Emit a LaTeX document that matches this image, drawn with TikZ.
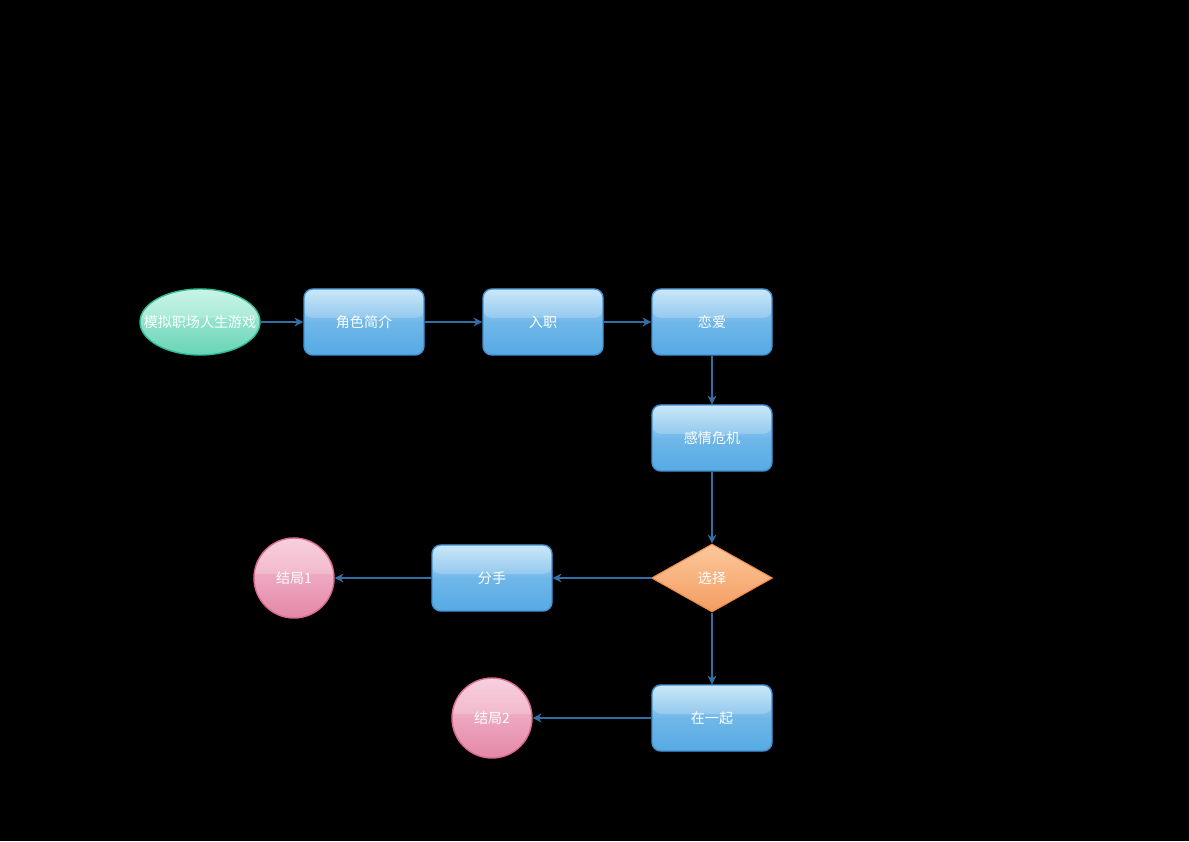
\documentclass[tikz,border=0pt]{standalone}
\usepackage{fontspec}
\setmainfont{Noto Sans CJK SC}
\usepackage{tikz}
\usetikzlibrary{shapes,arrows.meta,positioning,calc,shapes.geometric}
\definecolor{flowblue}{RGB}{86, 170, 228}
\definecolor{flowbluetop}{RGB}{190, 226, 248}
\definecolor{flowblueborder}{RGB}{66, 146, 212}
\definecolor{flowgreen}{RGB}{104, 212, 182}
\definecolor{flowgreentop}{RGB}{186, 242, 224}
\definecolor{flowgreenborder}{RGB}{48, 188, 150}
\definecolor{floworange}{RGB}{244, 156, 96}
\definecolor{floworangetop}{RGB}{252, 200, 156}
\definecolor{floworangeborder}{RGB}{238, 138, 74}
\definecolor{flowpink}{RGB}{228, 136, 168}
\definecolor{flowpinktop}{RGB}{246, 196, 214}
\definecolor{flowpinkborder}{RGB}{218, 108, 146}
\definecolor{flowarrow}{RGB}{52, 110, 164}

\begin{document}
\begin{tikzpicture}[
        gloss/.style={path picture={\fill[white, opacity=0.2] (path picture bounding box.north west) rectangle ($(path picture bounding box.east)+(0,0.08)$);}},
        box/.style={draw=flowblueborder, line width=0.8pt, rounded corners=5pt, top color=flowbluetop, bottom color=flowblue, middle color=flowblue!85!white, minimum width=2.4cm, minimum height=1.32cm, text=white, font=\fontsize{8}{9}\selectfont, gloss},
        startnode/.style={ellipse, draw=flowgreenborder, line width=0.8pt, top color=flowgreentop, bottom color=flowgreen, minimum width=2.4cm, minimum height=1.32cm, inner sep=0pt, gloss},
        choice/.style={diamond, draw=floworangeborder, line width=0.6pt, top color=floworangetop, bottom color=floworange, minimum width=2.42cm, minimum height=1.36cm, inner sep=0pt, aspect=1.8, text=white, font=\fontsize{8}{9}\selectfont},
        endnode/.style={circle, draw=flowpinkborder, line width=0.8pt, top color=flowpinktop, bottom color=flowpink, minimum size=1.6cm, inner sep=0pt, text=white, font=\fontsize{8}{9}\selectfont, gloss},
        flow/.style={draw=flowarrow, line width=0.6pt, -{Stealth[length=5pt, width=5pt]}}
    ]
        % Background
        \fill[black] (0,0) rectangle (23.78,16.82);

        % Top row
        \node[startnode, label={[text=white, font=\fontsize{8}{9}\selectfont]center:模拟职场人生游戏}] (ndStart) at (4.00, 10.38) {};
        \node[box] (ndIntro) at (7.28, 10.38) {角色简介};
        \node[box] (ndJoin) at (10.86, 10.38) {入职};
        \node[box] (ndLove) at (14.24, 10.38) {恋爱};

        % Right column
        \node[box] (ndCrisis) at (14.24, 8.06) {感情危机};
        \node[choice] (ndChoice) at (14.24, 5.26) {选择};
        \node[box] (ndTogether) at (14.24, 2.46) {在一起};

        % Endings
        \node[box] (ndBreak) at (9.84, 5.26) {分手};
        \node[endnode] (ndEnd1) at (5.88, 5.26) {结局1};
        \node[endnode] (ndEnd2) at (9.84, 2.46) {结局2};

        % Connectors
        \draw[flow] (ndStart) -- (ndIntro);
        \draw[flow] (ndIntro) -- (ndJoin);
        \draw[flow] (ndJoin) -- (ndLove);
        \draw[flow] (ndLove) -- (ndCrisis);
        \draw[flow] (ndCrisis) -- (ndChoice);
        \draw[flow] (ndChoice) -- (ndBreak);
        \draw[flow] (ndBreak) -- (ndEnd1);
        \draw[flow] (ndChoice) -- (ndTogether);
        \draw[flow] (ndTogether) -- (ndEnd2);
    \end{tikzpicture}
\end{document}
